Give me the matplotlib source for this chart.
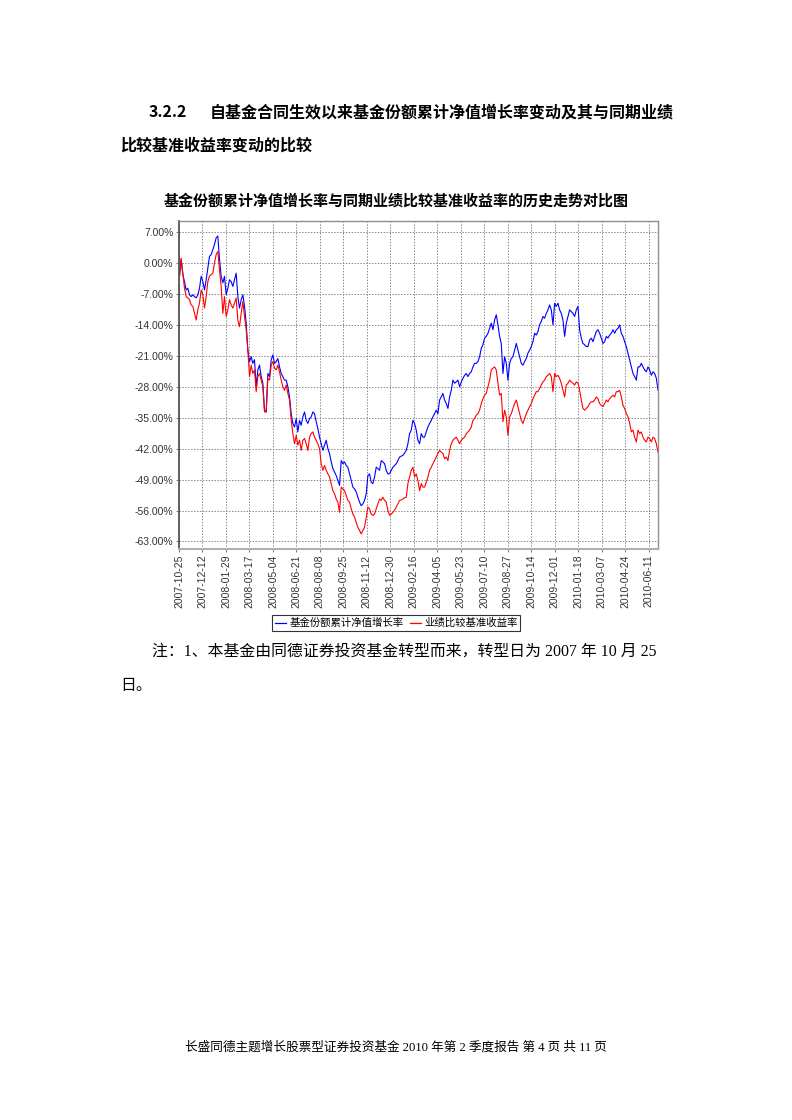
import numpy as np
import pandas as pd
import matplotlib
matplotlib.use("Agg")
import matplotlib.pyplot as plt
from matplotlib.lines import Line2D

#Fonts
cjk = ['Noto Sans CJK SC', 'DejaVu Sans']
serif_cjk = ['Liberation Serif', 'Noto Sans CJK SC']
plt.rcParams['font.family'] = cjk

start_date = '2007-10-26'
end_date = '2010-06-30'

nav_growth = [
    -3.0, 0.8, -2.6, -4.2, -6.1, -5.7, -7.2, -7.6, -7.2, -7.6,
    -7.9, -7.2, -5.7, -3.0, -4.2, -6.1, -3.8, -1.1, 1.5, 1.9,
    3.0, 4.2, 5.7, 6.1, 0.8, -3.0, -4.5, -3.0, -7.2, -5.7,
    -3.8, -4.2, -5.3, -3.8, -2.3, -7.6, -10.2, -8.3, -7.2, -9.8,
    -13.6, -19.7, -22.3, -21.2, -22.7, -21.9, -28.0, -24.2, -23.1, -25.7,
    -27.2, -33.3, -33.7, -25.0, -25.7, -21.9, -20.8, -22.7, -22.3, -21.6,
    -23.5, -25.0, -25.7, -26.5, -26.5, -28.0, -30.3, -34.1, -36.3, -37.1,
    -35.2, -38.2, -35.6, -36.7, -34.8, -33.7, -35.6, -36.3, -35.2, -34.8,
    -33.7, -34.1, -35.9, -37.5, -39.4, -40.9, -42.4, -41.2, -40.1, -42.0,
    -43.1, -45.0, -46.5, -47.3, -48.1, -49.2, -50.3, -44.7, -45.4, -45.0,
    -45.8, -46.2, -47.7, -49.2, -50.7, -51.1, -51.8, -53.0, -54.1, -54.9,
    -54.5, -53.7, -52.2, -48.1, -47.7, -49.6, -49.9, -48.4, -46.2, -46.5,
    -46.9, -44.7, -45.0, -45.4, -46.9, -47.7,
    -47.7, -46.9, -46.2, -45.8, -45.4, -44.7, -43.9, -43.7, -43.5, -43.0,
    -42.4, -40.9, -38.6, -37.8, -35.6, -36.3, -37.8, -40.1, -40.9, -38.6,
    -39.4, -39.4, -38.2, -37.1, -36.3, -35.6, -34.8, -34.1, -33.3, -34.1,
    -31.0, -30.3, -29.5, -31.0, -31.8, -32.9, -30.3, -28.8, -26.5, -27.2,
    -26.9, -26.5, -28.0, -26.9, -26.1, -25.4, -25.0, -25.7, -25.0, -24.6,
    -23.5, -22.7, -22.7, -22.3, -21.2, -19.3, -18.5, -17.0, -16.6, -15.9,
    -14.8, -13.6, -15.1, -12.9, -11.7, -14.0, -16.6, -18.2, -25.0, -21.2,
    -22.7, -26.5, -22.7, -21.6, -21.2, -19.7, -18.2, -19.7, -21.2, -22.7,
    -23.1, -22.3, -21.6, -20.4, -19.7, -18.9, -17.8, -15.9, -16.3, -15.5,
    -14.0, -13.2, -12.1, -12.5, -11.4, -10.6, -9.5, -10.6, -14.0, -9.1,
    -9.8, -9.1, -10.6, -11.4, -12.9, -16.6, -13.6, -12.1, -10.6, -11.0,
    -11.4, -12.1, -10.6, -9.8, -15.1, -17.0, -18.2, -18.5, -18.9, -18.9,
    -17.4, -17.0, -17.8, -16.6, -15.5, -15.1, -15.9, -17.0, -18.2, -17.8,
    -16.6, -17.0, -16.3, -15.9, -15.1, -15.9, -15.1, -14.8, -14.0, -15.9,
    -16.6, -17.8, -18.9, -20.4, -21.9, -23.5, -25.0, -25.7, -26.5, -23.5,
    -23.5, -22.7, -23.5, -24.2, -24.6, -23.5, -24.2, -25.4, -24.6, -25.0,
    -26.1, -28.8,
]

benchmark = [
    -3.0, 1.1, -2.3, -5.7, -7.6, -7.9, -8.3, -9.5, -9.8, -11.4,
    -12.9, -10.6, -9.1, -6.1, -7.2, -10.2, -7.6, -4.2, -3.0, -2.6,
    -2.3, 0.0, 1.9, 2.6, -1.5, -5.3, -11.4, -7.6, -12.1, -10.6,
    -8.3, -9.5, -10.2, -9.1, -7.9, -12.9, -14.4, -11.4, -8.7, -12.1,
    -15.1, -19.7, -25.7, -23.1, -25.0, -24.2, -29.1, -25.7, -25.0, -26.5,
    -28.0, -33.7, -33.7, -26.1, -26.5, -23.1, -22.3, -23.8, -24.2, -23.1,
    -24.6, -26.5, -28.0, -28.8, -27.6, -29.5, -31.0, -35.6, -38.6, -40.9,
    -39.0, -41.2, -40.1, -42.4, -40.1, -39.7, -40.9, -42.4, -39.4, -38.6,
    -38.2, -39.4, -40.1, -40.9, -42.0, -45.4, -46.9, -45.8, -46.9, -47.7,
    -48.4, -49.9, -51.5, -52.2, -53.4, -54.1, -56.4, -50.7, -51.1, -51.5,
    -52.6, -53.7, -54.1, -55.6, -56.8, -57.5, -58.7, -59.8, -60.5, -61.3,
    -60.5, -59.8, -57.5, -55.2, -55.6, -56.8, -57.1, -56.8, -55.6, -54.5,
    -53.4, -53.7, -53.0, -53.7, -54.1, -56.0,
    -57.1, -56.8, -56.4, -55.9, -55.2, -54.5, -53.7, -53.6, -53.4, -53.1,
    -53.0, -49.9, -48.4, -46.9, -46.2, -48.4, -47.7, -49.2, -51.5, -49.9,
    -50.7, -50.7, -49.6, -48.4, -46.9, -46.2, -45.4, -44.7, -43.9, -43.1,
    -42.4, -42.8, -43.1, -44.3, -43.9, -44.7, -42.4, -40.9, -40.1, -39.7,
    -39.4, -40.1, -40.9, -40.1, -39.7, -39.4, -38.6, -38.2, -37.8, -37.1,
    -35.6, -35.2, -34.4, -34.1, -33.3, -31.8, -30.7, -29.9, -29.5, -28.0,
    -26.5, -24.2, -23.8, -23.5, -24.2, -27.2, -29.9, -29.5, -35.9, -33.3,
    -34.8, -39.0, -34.8, -34.1, -32.9, -31.8, -31.0, -32.5, -34.1, -35.6,
    -36.3, -35.2, -34.1, -33.3, -32.5, -31.8, -30.7, -29.9, -29.1, -29.1,
    -28.4, -27.6, -26.9, -26.5, -25.7, -25.4, -25.0, -25.7, -29.1, -25.0,
    -25.7, -25.4, -26.1, -27.2, -28.8, -30.3, -27.6, -27.2, -26.5, -26.9,
    -27.2, -27.6, -26.9, -27.2, -28.8, -31.0, -32.9, -33.3, -32.9, -32.5,
    -31.8, -31.4, -31.4, -31.0, -30.3, -30.7, -31.8, -32.2, -32.5, -31.8,
    -31.0, -31.4, -30.7, -30.3, -29.9, -30.3, -29.1, -29.1, -28.8, -30.3,
    -32.2, -32.9, -34.1, -34.8, -36.3, -38.2, -37.8, -39.4, -40.5, -37.8,
    -38.6, -38.2, -39.4, -40.1, -40.5, -39.4, -39.7, -40.5, -39.4, -39.7,
    -40.9, -42.8,
]

x_tick_labels = ['2007-10-25', '2007-12-12', '2008-01-29', '2008-03-17', '2008-05-04',
                 '2008-06-21', '2008-08-08', '2008-09-25', '2008-11-12', '2008-12-30',
                 '2009-02-16', '2009-04-05', '2009-05-23', '2009-07-10', '2009-08-27',
                 '2009-10-14', '2009-12-01', '2010-01-18', '2010-03-07', '2010-04-24',
                 '2010-06-11']
y_ticks = [7, 0, -7, -14, -21, -28, -35, -42, -49, -56, -63]

series_names = ['基金份额累计净值增长率', '业绩比较基准收益率']
series_colors = ['#0000ff', '#ff0000']

dates = pd.date_range(start_date, end_date, periods=len(nav_growth))

#Figure (792 x 1120 px)
fig = plt.figure(figsize=(7.92, 11.2), dpi=100)
W, H = 792.0, 1120.0

#Page text
fig.text(149/W, 1-112/H, '3.2.2', fontsize=11.5, fontweight='bold', va='center', ha='left')
fig.text(210/W, 1-112/H, '自基金合同生效以来基金份额累计净值增长率变动及其与同期业绩',
         fontsize=11.5, fontweight='bold', va='center', ha='left')
fig.text(120/W, 1-146/H, '比较基准收益率变动的比较', fontsize=11.5, fontweight='bold',
         va='center', ha='left')
fig.text(396/W, 1-201/H, '基金份额累计净值增长率与同期业绩比较基准收益率的历史走势对比图',
         fontsize=10.8, fontweight='bold', va='center', ha='center')

#Chart
ax = fig.add_axes([179/W, 1-549/H, (658-179)/W, (549-221)/H])
ax.plot(dates, nav_growth, color=series_colors[0], lw=0.8)
ax.plot(dates, benchmark, color=series_colors[1], lw=0.8)

tick_dates = pd.to_datetime(x_tick_labels)
ax.set_xticks(tick_dates)
ax.set_xticklabels(x_tick_labels, rotation=90, fontsize=7.5, color='#333333',
                   family='Liberation Sans')
ax.set_xlim(pd.Timestamp('2007-10-25'), pd.Timestamp('2010-06-30'))

ax.set_yticks(y_ticks)
ax.set_yticklabels(['%.2f%%' % v for v in y_ticks], fontsize=7.5, color='#333333',
                   family='Liberation Sans')
ax.set_ylim(-64.7, 9.5)

ax.grid(True, color='#8a8a8a', linestyle=(0, (1.5, 1.5)), linewidth=0.7)
ax.tick_params(axis='both', length=2, color='#808080', pad=2)
for s in ax.spines.values():
    s.set_color('#909090')
    s.set_linewidth(1.0)
ax.spines['left'].set_color('#555555')
ax.spines['left'].set_linewidth(1.3)
ax.spines['bottom'].set_linewidth(1.5)
ax.spines['bottom'].set_color('#b0b0b0')

#Legend
handles = [Line2D([], [], color=c, lw=0.9) for c in series_colors]
leg = fig.legend(handles, series_names, loc='center', bbox_to_anchor=(396/W, 1-623/H),
                 ncol=2, frameon=True, fancybox=False, handlelength=1.1,
                 handletextpad=0.3, columnspacing=0.6, borderpad=0.25,
                 prop={'family': serif_cjk, 'size': 7.5})
leg.get_frame().set_edgecolor('#000000')
leg.get_frame().set_linewidth(0.8)

#Notes
fig.text(152/W, 1-652/H, '注：1、本基金由同德证券投资基金转型而来，转型日为 2007 年 10 月 25',
         fontsize=11.4, va='center', ha='left', family=serif_cjk)
fig.text(120/W, 1-686/H, '日。', fontsize=11.4, va='center', ha='left', family=serif_cjk)

#Footer
fig.text(396/W, 1-1047/H, '长盛同德主题增长股票型证券投资基金 2010 年第 2 季度报告 第 4 页 共 11 页',
         fontsize=9.1, va='center', ha='center', family=serif_cjk)

fig.savefig('out.png', dpi=100)
